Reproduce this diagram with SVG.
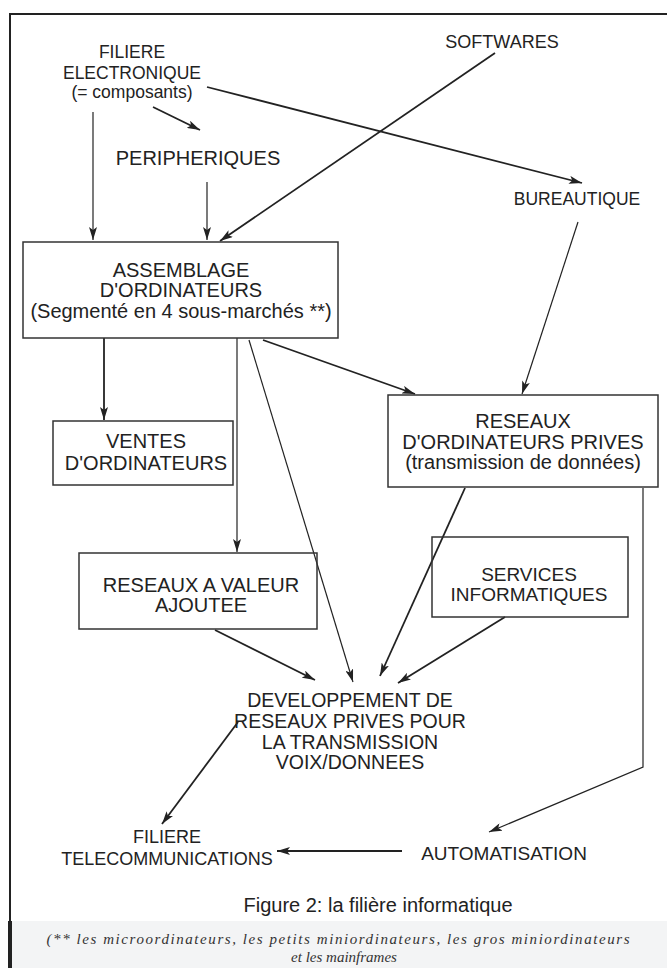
<svg xmlns="http://www.w3.org/2000/svg" width="667" height="968" viewBox="0 0 667 968">
<style>
.t{font-family:"Liberation Sans",Arial,sans-serif;fill:#222;text-anchor:middle}
.box{fill:none;stroke:#333;stroke-width:1.5}
.c{fill:none;stroke:#222;stroke-width:1.2}
.ct{fill:none;stroke:#222;stroke-width:1.8}
.fn{font-family:"Liberation Serif","Times New Roman",serif;font-style:italic;fill:#333;text-anchor:middle}
</style>
<defs>
<marker id="ah" markerUnits="userSpaceOnUse" markerWidth="13" markerHeight="8" refX="13" refY="4" orient="auto">
<path d="M0,0 L13,4 L0,8 L3,4 z" fill="#222"/>
</marker>
</defs>
<rect x="0" y="0" width="667" height="968" fill="#fff"/>
<rect x="10" y="921" width="657" height="47" fill="#f3f4f5"/>
<g id="frame">
<line x1="10" y1="14" x2="667" y2="14" stroke="#222" stroke-width="2.2"/>
<line x1="10" y1="13" x2="10" y2="968" stroke="#222" stroke-width="2"/>
<line x1="10" y1="921" x2="10" y2="968" stroke="#222" stroke-width="4"/>
</g>
<g id="connectors">
<line class="c" x1="93" y1="112" x2="93" y2="240" marker-end="url(#ah)"/>
<line class="ct" x1="153" y1="107" x2="200" y2="130" marker-end="url(#ah)"/>
<line class="c" x1="207" y1="182" x2="207" y2="240" marker-end="url(#ah)"/>
<line class="ct" x1="495" y1="53" x2="220" y2="241" marker-end="url(#ah)"/>
<line class="ct" x1="207" y1="87" x2="582" y2="183" marker-end="url(#ah)"/>
<line class="c" x1="578" y1="222" x2="522" y2="394" marker-end="url(#ah)"/>
<line class="ct" x1="104" y1="338" x2="104" y2="420" marker-end="url(#ah)"/>
<line class="c" x1="237" y1="338" x2="237" y2="552" marker-end="url(#ah)"/>
<line class="c" x1="249" y1="340" x2="353" y2="682" marker-end="url(#ah)"/>
<line class="ct" x1="263" y1="340" x2="415" y2="394" marker-end="url(#ah)"/>
<line class="ct" x1="465" y1="488" x2="380" y2="676" marker-end="url(#ah)"/>
<line class="ct" x1="215" y1="630" x2="315" y2="680" marker-end="url(#ah)"/>
<line class="ct" x1="505" y1="617" x2="398" y2="683" marker-end="url(#ah)"/>
<polyline class="c" points="643,488 643,767 489,832" marker-end="url(#ah)"/>
<line class="ct" x1="238" y1="722" x2="162" y2="824" marker-end="url(#ah)"/>
<line class="ct" x1="402" y1="851" x2="277" y2="851" marker-end="url(#ah)"/>
</g>
<g id="filiere-electronique">
<text class="t" x="132" y="57.5" font-size="17.5">FILIERE</text>
<text class="t" x="132" y="79" font-size="17.5">ELECTRONIQUE</text>
<text class="t" x="132" y="98" font-size="17.5">(= composants)</text>
</g>
<g id="softwares"><text class="t" x="502" y="48" font-size="18">SOFTWARES</text></g>
<g id="peripheriques"><text class="t" x="198" y="165" font-size="20">PERIPHERIQUES</text></g>
<g id="bureautique"><text class="t" x="577" y="205" font-size="17.5">BUREAUTIQUE</text></g>
<g id="assemblage">
<rect class="box" x="23" y="242" width="315" height="96"/>
<text class="t" x="181" y="277" font-size="20">ASSEMBLAGE</text>
<text class="t" x="181" y="297" font-size="20">D'ORDINATEURS</text>
<text class="t" x="181" y="318" font-size="20">(Segmenté en 4 sous-marchés **)</text>
</g>
<g id="ventes">
<rect class="box" x="53" y="421" width="180" height="64"/>
<text class="t" x="146" y="448" font-size="20">VENTES</text>
<text class="t" x="146" y="470" font-size="20">D'ORDINATEURS</text>
</g>
<g id="reseaux-prives">
<rect class="box" x="388" y="395" width="270" height="92"/>
<text class="t" x="523" y="428" font-size="20">RESEAUX</text>
<text class="t" x="523" y="449" font-size="20">D'ORDINATEURS PRIVES</text>
<text class="t" x="523" y="469" font-size="20">(transmission de données)</text>
</g>
<g id="reseaux-valeur">
<rect class="box" x="79" y="553" width="238" height="76"/>
<text class="t" x="201" y="592" font-size="20">RESEAUX A VALEUR</text>
<text class="t" x="201" y="612" font-size="20">AJOUTEE</text>
</g>
<g id="services">
<rect class="box" x="432" y="537" width="196" height="80"/>
<text class="t" x="529" y="581" font-size="19">SERVICES</text>
<text class="t" x="529" y="601" font-size="19">INFORMATIQUES</text>
</g>
<g id="developpement">
<text class="t" x="350" y="707" font-size="19.5">DEVELOPPEMENT DE</text>
<text class="t" x="350" y="728" font-size="19.5">RESEAUX PRIVES POUR</text>
<text class="t" x="350" y="749" font-size="19.5">LA TRANSMISSION</text>
<text class="t" x="350" y="769" font-size="19.5">VOIX/DONNEES</text>
</g>
<g id="filiere-telecom">
<text class="t" x="167" y="843" font-size="18">FILIERE</text>
<text class="t" x="167" y="865" font-size="18">TELECOMMUNICATIONS</text>
</g>
<g id="automatisation"><text class="t" x="504" y="860" font-size="19">AUTOMATISATION</text></g>
<g id="caption">
<text class="t" x="378" y="912" font-size="20">Figure 2: la filière informatique</text>
<text class="fn" x="338" y="944" font-size="15" textLength="583" lengthAdjust="spacing">(** les microordinateurs, les petits miniordinateurs, les gros miniordinateurs</text>
<text class="fn" x="344" y="962" font-size="15">et les mainframes</text>
</g>
</svg>
